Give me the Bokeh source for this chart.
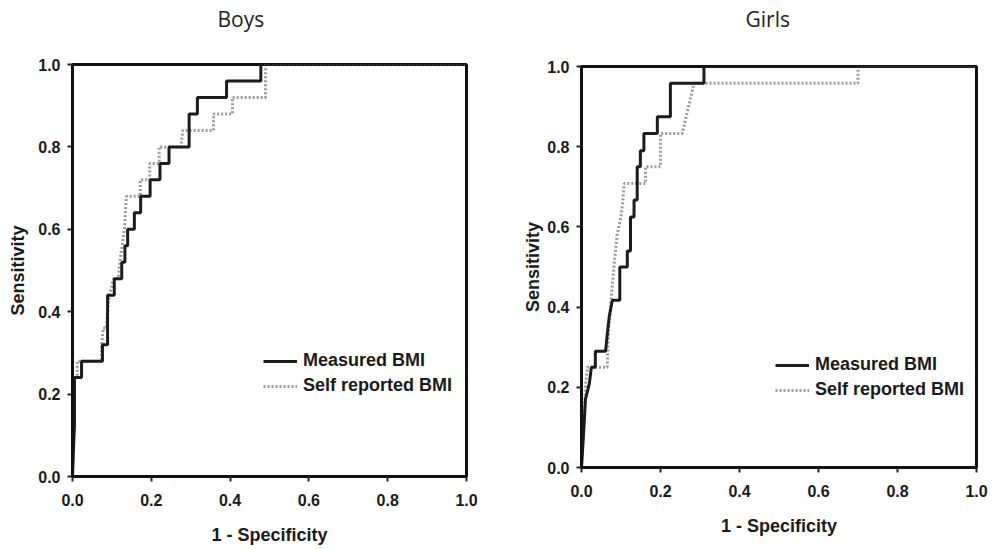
from bokeh.plotting import figure
from bokeh.models import Range1d, FixedTicker, Legend, LegendItem, Title
from bokeh.layouts import row, column
from bokeh.embed import file_html
from bokeh.resources import INLINE

# ---- data (ROC curve vertices) ----
tick_values = [0.0, 0.2, 0.4, 0.6, 0.8, 1.0]
tick_labels = ["0.0", "0.2", "0.4", "0.6", "0.8", "1.0"]
panel_titles = ["Boys", "Girls"]
series_names = ["Measured BMI", "Self reported BMI"]
x_title = "1 - Specificity"
y_title = "Sensitivity"

boys_measured_fpr = [0, 0.003, 0.005, 0.005, 0.023, 0.023, 0.076, 0.076, 0.089, 0.089, 0.106,
                     0.106, 0.125, 0.125, 0.133, 0.133, 0.140, 0.140, 0.157, 0.157, 0.173,
                     0.173, 0.197, 0.197, 0.222, 0.222, 0.245, 0.245, 0.296, 0.296, 0.317,
                     0.317, 0.391, 0.391, 0.478, 0.478, 1.0]
boys_measured_tpr = [0, 0.08, 0.12, 0.24, 0.24, 0.28, 0.28, 0.32, 0.32, 0.44, 0.44,
                     0.48, 0.48, 0.52, 0.52, 0.56, 0.56, 0.60, 0.60, 0.64, 0.64,
                     0.68, 0.68, 0.72, 0.72, 0.76, 0.76, 0.80, 0.80, 0.88, 0.88,
                     0.92, 0.92, 0.96, 0.96, 1.0, 1.0]

boys_self_fpr = [0, 0.002, 0.004, 0.012, 0.012, 0.074, 0.074, 0.078, 0.086, 0.089, 0.094,
                 0.104, 0.116, 0.120, 0.126, 0.132, 0.134, 0.137, 0.172, 0.172, 0.196,
                 0.196, 0.220, 0.220, 0.275, 0.280, 0.358, 0.358, 0.406, 0.406, 0.490,
                 0.490, 1.0]
boys_self_tpr = [0, 0.12, 0.24, 0.24, 0.28, 0.28, 0.32, 0.36, 0.36, 0.40, 0.44,
                 0.48, 0.48, 0.52, 0.56, 0.60, 0.64, 0.68, 0.68, 0.72, 0.72,
                 0.76, 0.76, 0.80, 0.80, 0.84, 0.84, 0.88, 0.88, 0.92, 0.92,
                 1.0, 1.0]

girls_measured_fpr = [0, 0.005, 0.010, 0.020, 0.025, 0.035, 0.035, 0.061, 0.065, 0.070,
                      0.078, 0.097, 0.097, 0.116, 0.116, 0.124, 0.124, 0.133, 0.133, 0.141,
                      0.141, 0.149, 0.149, 0.158, 0.158, 0.192, 0.192, 0.225, 0.225, 0.310,
                      0.310, 1.0]
girls_measured_tpr = [0, 0.08, 0.17, 0.21, 0.25, 0.25, 0.29, 0.29, 0.33, 0.375,
                      0.417, 0.417, 0.50, 0.50, 0.54, 0.54, 0.625, 0.625, 0.667, 0.667,
                      0.75, 0.75, 0.79, 0.79, 0.833, 0.833, 0.875, 0.875, 0.958, 0.958,
                      1.0, 1.0]

girls_self_fpr = [0, 0.005, 0.010, 0.015, 0.065, 0.068, 0.075, 0.082, 0.090, 0.100,
                  0.105, 0.108, 0.162, 0.162, 0.200, 0.200, 0.255, 0.265, 0.275, 0.285,
                  0.700, 0.700, 1.0]
girls_self_tpr = [0, 0.10, 0.20, 0.25, 0.25, 0.33, 0.42, 0.50, 0.58, 0.625,
                  0.667, 0.708, 0.708, 0.75, 0.75, 0.833, 0.833, 0.875, 0.917, 0.958,
                  0.958, 1.0, 1.0]

LABEL_FONT = "Liberation Sans"


def make_panel(title, title_offset, spacer_standoff, mx, my, sx, sy, width, height,
               ml, mr, mt, mb, legend_loc, ylabel_standoff):
    p = figure(width=width, height=height, x_range=Range1d(0, 1), y_range=Range1d(0, 1),
               output_backend="svg", toolbar_location=None, title=None,
               min_border_left=ml, min_border_right=mr, min_border_top=mt, min_border_bottom=mb)
    p.grid.visible = False
    p.background_fill_color = "white"
    p.border_fill_color = "white"
    p.outline_line_color = "#111111"
    p.outline_line_width = 3
    p.outline_line_alpha = 1

    # spacer (nearest to the frame) then the visible title further out
    p.add_layout(Title(text=" ", text_font="Open Sans", text_font_size="21px",
                       standoff=spacer_standoff), "above")
    p.add_layout(Title(text=title, align="left", offset=title_offset, standoff=0,
                       text_font="Open Sans", text_font_style="normal",
                       text_font_size="21px", text_color="#222222"), "above")

    for ax in (p.xaxis[0], p.yaxis[0]):
        ax.ticker = FixedTicker(ticks=tick_values)
        ax.major_label_overrides = {v: t for v, t in zip(tick_values, tick_labels)}
        ax.minor_tick_line_color = None
        ax.major_tick_in = 0
        ax.major_tick_out = 5
        ax.major_tick_line_width = 2
        ax.major_tick_line_color = "#222222"
        ax.axis_line_width = 3
        ax.axis_line_color = "#111111"
        ax.major_label_text_font = LABEL_FONT
        ax.major_label_text_font_style = "bold"
        ax.major_label_text_font_size = "16px"
        ax.major_label_text_color = "#1a1a1a"
        ax.axis_label_text_font = LABEL_FONT
        ax.axis_label_text_font_style = "bold"
        ax.axis_label_text_font_size = "18px"
        ax.axis_label_text_color = "#1a1a1a"
    p.xaxis.major_label_standoff = 12
    p.yaxis.major_label_standoff = 7
    p.xaxis.axis_label = x_title
    p.yaxis.axis_label = y_title
    p.xaxis.axis_label_standoff = 16
    p.yaxis.axis_label_standoff = ylabel_standoff

    r_self = p.line(sx, sy, line_color="#9a9a9a", line_width=3, line_dash="2 2")
    r_meas = p.line(mx, my, line_color="#1c1c1c", line_width=3)

    legend = Legend(items=[LegendItem(label=series_names[0], renderers=[r_meas]),
                           LegendItem(label=series_names[1], renderers=[r_self])],
                    location=legend_loc)
    legend.background_fill_alpha = 0
    legend.border_line_color = None
    legend.padding = 0
    legend.margin = 0
    legend.spacing = 4
    legend.glyph_width = 34
    legend.glyph_height = 20
    legend.label_standoff = 6
    legend.label_text_font = LABEL_FONT
    legend.label_text_font_style = "bold"
    legend.label_text_font_size = "18px"
    legend.label_text_color = "#1a1a1a"
    p.add_layout(legend)
    return p


left = make_panel(panel_titles[0], 145, 2, boys_measured_fpr, boys_measured_tpr,
                  boys_self_fpr, boys_self_tpr, 500, 549, 72, 34, 64, 73, (191, 80), 7)
right = make_panel(panel_titles[1], 164, 4, girls_measured_fpr, girls_measured_tpr,
                   girls_self_fpr, girls_self_tpr, 492, 549, 81, 16, 66, 82, (194, 67), 1)

layout = row(column(left), column(right))
open("out.html", "w").write(file_html(layout, INLINE))
